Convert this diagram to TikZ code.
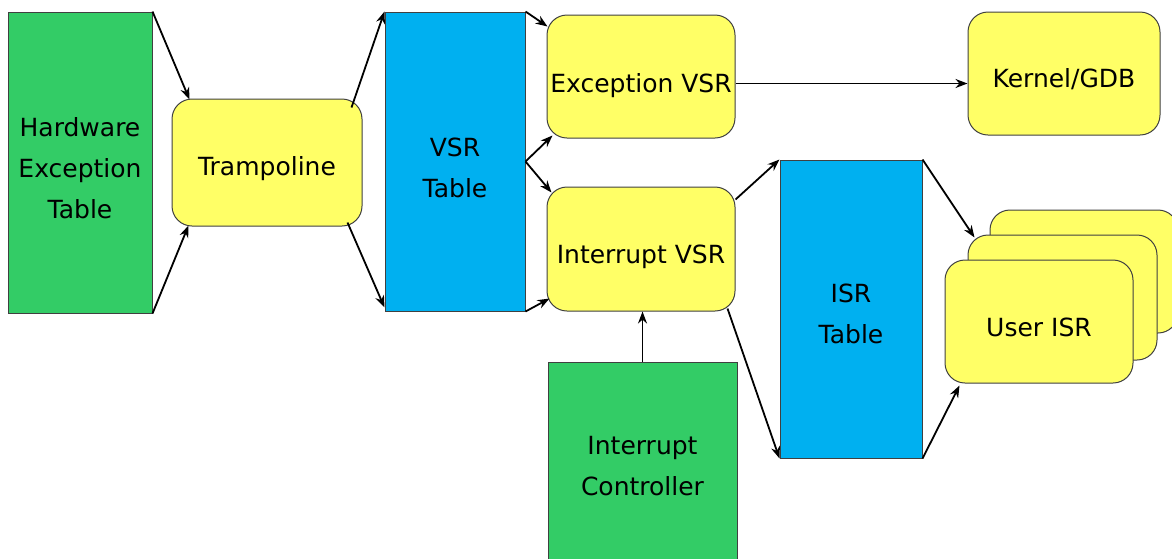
\documentclass[tikz,border=0pt]{standalone}
\usepackage{fontspec}
\setmainfont{DejaVu Sans}
\usetikzlibrary{arrows.meta,calc}
\definecolor{hwgreen}{HTML}{33CC66}
\definecolor{tblue}{HTML}{00B0F0}
\definecolor{pyellow}{HTML}{FFFF66}
\definecolor{edgegray}{HTML}{404040}
\tikzset{
  txt/.style={inner sep=0pt, align=center, font=\fontsize{25}{41}\selectfont, text=black},
  base/.style={draw=edgegray, line width=1pt, inner sep=0pt},
  lbl/.style 2 args={label={[txt,yshift=-#2pt]center:#1}},
  greenbox/.style={base, fill=hwgreen},
  bluebox/.style={base, fill=tblue},
  ybox/.style={base, fill=pyellow, rounded corners=20pt},
  conn/.style={line width=1.8pt, -{Stealth[length=12pt,width=9pt]}}
}
\begin{document}
\begin{tikzpicture}[x=1pt,y=-1pt]
\useasboundingbox (0,0) rectangle (1172,558);
\clip (0,0) rectangle (1172,558);
% boxes
\node[greenbox, minimum width=144pt, minimum height=301pt, lbl={Hardware\\Exception\\Table}{6}] (het) at (80,162.5) {};
\node[ybox, minimum width=190pt, minimum height=127pt, lbl={Trampoline}{6}] (tramp) at (267,162.5) {};
\node[bluebox, minimum width=140pt, minimum height=299pt, lbl={VSR\\Table}{6}] (vsr) at (455,161.5) {};
\node[ybox, minimum width=188pt, minimum height=123pt, lbl={Exception VSR}{9}] (exc) at (641,76.5) {};
\node[ybox, minimum width=192pt, minimum height=123pt, lbl={Kernel/GDB}{6}] (kern) at (1064,73.5) {};
\node[ybox, minimum width=188pt, minimum height=124pt, lbl={Interrupt VSR}{8}] (int) at (641,249) {};
\node[bluebox, minimum width=142pt, minimum height=298pt, lbl={ISR\\Table}{5}] (isr) at (851,309) {};
\node[greenbox, minimum width=189pt, minimum height=210pt, anchor=north] (ic) at (642.5,362) {};
\node[txt] (ictext) at (642.5,466) {Interrupt\\Controller};
\node[ybox, minimum width=188pt, minimum height=123pt] (back) at (1084,271.5) {};
\node[ybox, minimum width=189pt, minimum height=125pt] (mid) at (1062.5,297.5) {};
\node[ybox, minimum width=188pt, minimum height=123pt, lbl={User ISR}{6}] (front) at (1039,321.5) {};
% connectors
\draw[conn] (het.north east) -- ($(tramp.north west)+(18,1)$);
\draw[conn] (het.south east) -- ($(tramp.south west)+(17,-1)$);
\draw[conn] ($(tramp.north east)+(-11,9)$) -- (vsr.north west);
\draw[conn] ($(tramp.south east)+(-15,-4)$) -- ($(vsr.south west)+(0,-4)$);
\draw[conn] (vsr.north east) -- ($(exc.north west)+(1,12)$);
\draw[conn] (vsr.east) -- ($(exc.south west)+(6,-3)$);
\draw[conn] (vsr.east) -- ($(int.north west)+(5,6)$);
\draw[conn] (vsr.south east) -- ($(int.south west)+(3,-13)$);
\coordinate (e1) at ($(exc.east)+(0,7)$);
\draw[conn] (e1) -- (kern.west |- e1);
\draw[conn] ($(int.north east)+(0,13)$) -- (isr.north west);
\draw[conn] ($(int.south east)+(-8,-3)$) -- (isr.south west);
\draw[conn] (ic.north) -- (int.south -| ic.north);
\draw[conn] (isr.north east) -- ($(mid.north west)+(7,3)$);
\draw[conn] (isr.south east) -- ($(front.south west)+(15,2)$);
\end{tikzpicture}
\end{document}
